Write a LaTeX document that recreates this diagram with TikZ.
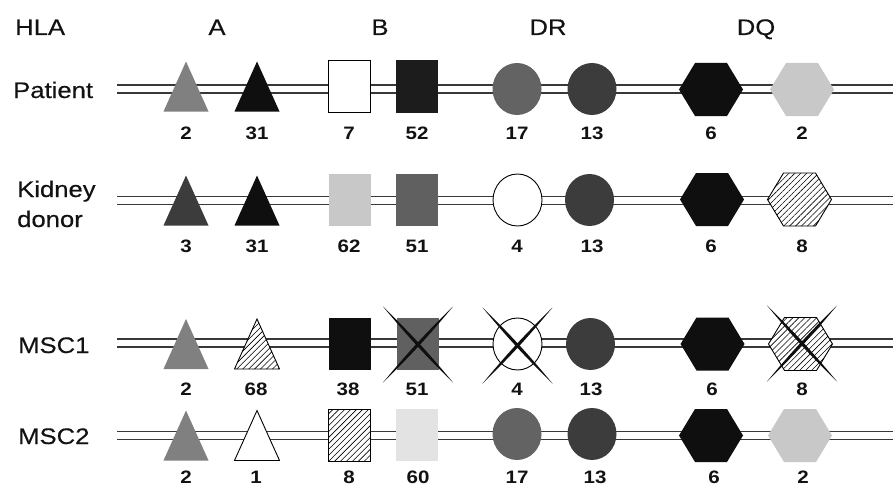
\documentclass[tikz,border=0pt]{standalone}
\usepackage{graphicx}
\usepackage{fontspec}
\setmainfont{Liberation Sans}
\newfontfamily\labfont[FakeBold=0.35]{Liberation Sans}
\usetikzlibrary{patterns.meta}
\definecolor{cMid}{gray}{0.50}
\definecolor{cDark}{gray}{0.235}
\definecolor{cBlk}{gray}{0.06}
\definecolor{cB52}{gray}{0.11}
\definecolor{cLight}{gray}{0.785}
\definecolor{cB51}{gray}{0.375}
\definecolor{cDRs}{gray}{0.39}
\definecolor{cB60}{gray}{0.89}
\definecolor{cRail}{gray}{0.22}
\definecolor{cText}{gray}{0.07}
\newcommand\wx[1]{\scalebox{1.14}[1]{#1}}
\newcommand\hTri[3]{\path[#3] ({#1-22.5},{#2+24}) -- (#1,{#2-26}) -- ({#1+22.5},{#2+24}) -- cycle;}
\newcommand\hSq[3]{\path[#3] ({#1-21},{#2-26}) rectangle ({#1+21},{#2+26});}
\newcommand\hCi[3]{\path[#3] (#1,#2) ellipse [x radius=24.5pt, y radius=26pt];}
\newcommand\hHx[3]{\path[#3] ({#1-32},#2) -- ({#1-16},{#2-26.5}) -- ({#1+16},{#2-26.5}) -- ({#1+32},#2) -- ({#1+16},{#2+26.5}) -- ({#1-16},{#2+26.5}) -- cycle;}
\newcommand\hX[2]{%
  \fill[cBlk] ({#1-35},{#2-38}) to[bend left=3] ({#1+35},{#2+38}) to[bend left=3] ({#1-35},{#2-38});
  \fill[cBlk] ({#1+35},{#2-38}) to[bend left=3] ({#1-35},{#2+38}) to[bend left=3] ({#1+35},{#2-38});}
\newcommand\hRail[1]{%
  \draw[rail] (117,{#1-4}) -- (893,{#1-4});
  \draw[rail] (117,{#1+4}) -- (893,{#1+4});}
\tikzset{
  rail/.style={draw=cRail, line width=1.1pt},
  outl/.style={fill=white, draw=black, line width=0.9pt},
  hatch/.style={preaction={fill=white}, draw=black, line width=0.9pt,
    pattern={Lines[angle=45,distance=4.2pt,line width=0.6pt]}, pattern color=black},
  lab/.style={font=\labfont\fontsize{22.5}{24}\selectfont, anchor=base west, inner sep=0pt, text=cText},
  hdr/.style={font=\labfont\fontsize{22.5}{24}\selectfont, anchor=base, inner sep=0pt, text=cText},
  num/.style={font=\bfseries\fontsize{18}{20}\selectfont, anchor=base, inner sep=0pt, text=cText}
}
\begin{document}
\begin{tikzpicture}[x=1pt,y=-1pt]
\useasboundingbox (0,0) rectangle (896,487);
\fill[white] (0,0) rectangle (896,487);

% headers
\node[lab] (hla) at (15,35) {\wx{HLA}};
\node[hdr] (hA) at (217,35) {\wx{A}};
\node[hdr] (hB) at (380,35) {\wx{B}};
\node[hdr] (hDR) at (548,35) {\wx{DR}};
\node[hdr] (hDQ) at (756,35) {\wx{DQ}};

% row labels
\node[lab] (lP) at (13,98) {\wx{Patient}};
\node[lab] (lK1) at (17,197) {\wx{Kidney}};
\node[lab] (lK2) at (17,227) {\wx{donor}};
\node[lab] (lM1) at (18,353) {\wx{MSC1}};
\node[lab] (lM2) at (18,444) {\wx{MSC2}};

% rails
\hRail{89}
\hRail{200.5}
\hRail{343}
\hRail{435.5}

% Patient
\hTri{186}{87.5}{fill=cMid}
\hTri{257}{87.5}{fill=cBlk}
\hSq{349}{86.5}{outl}
\hSq{417}{86.5}{fill=cB52}
\hCi{517}{89}{fill=cDRs}
\hCi{592}{89}{fill=cDark}
\hHx{711}{89.5}{fill=cBlk}
\hHx{802}{89.5}{fill=cLight}

% Kidney donor
\hTri{186}{201.5}{fill=cDark}
\hTri{257}{201.5}{fill=cBlk}
\hSq{349.5}{200}{fill=cLight}
\hSq{417}{200}{fill=cB51}
\hCi{517.5}{200}{outl}
\hCi{589.5}{200}{fill=cDark}
\hHx{712}{199.5}{fill=cBlk}
\hHx{799.5}{199.5}{hatch}

% MSC1
\hTri{186}{345}{fill=cMid}
\hTri{257}{345}{hatch}
\hSq{349.5}{344}{fill=cBlk}
\hSq{417.5}{344}{fill=cB51}
\hCi{517.5}{344}{outl}
\hCi{590.5}{344}{fill=cDark}
\hHx{712.5}{344}{fill=cBlk}
\hHx{800.5}{344}{hatch}
\hX{418}{344.5}
\hX{517.5}{345.5}
\hX{802}{343.5}

% MSC2
\hTri{186}{436.5}{fill=cMid}
\hTri{257}{436.5}{outl}
\hSq{349.5}{435}{hatch}
\hSq{417}{435}{fill=cB60}
\hCi{517}{434}{fill=cDRs}
\hCi{592}{434}{fill=cDark}
\hHx{711}{435.5}{fill=cBlk}
\hHx{800}{435.5}{fill=cLight}

% numbers: Patient
\node[num] (nP1) at (186,139) {\wx{2}};
\node[num] (nP2) at (257,139) {\wx{31}};
\node[num] (nP3) at (349,139) {\wx{7}};
\node[num] (nP4) at (417,139) {\wx{52}};
\node[num] (nP5) at (517,139) {\wx{17}};
\node[num] (nP6) at (592,139) {\wx{13}};
\node[num] (nP7) at (711,139) {\wx{6}};
\node[num] (nP8) at (802,139) {\wx{2}};
% Kidney
\node[num] (nK1) at (186,252) {\wx{3}};
\node[num] (nK2) at (257,252) {\wx{31}};
\node[num] (nK3) at (349,252) {\wx{62}};
\node[num] (nK4) at (417,252) {\wx{51}};
\node[num] (nK5) at (517,252) {\wx{4}};
\node[num] (nK6) at (592,252) {\wx{13}};
\node[num] (nK7) at (711,252) {\wx{6}};
\node[num] (nK8) at (802,252) {\wx{8}};
% MSC1
\node[num] (nM1) at (186,395) {\wx{2}};
\node[num] (nM2) at (256,395) {\wx{68}};
\node[num] (nM3) at (348,395) {\wx{38}};
\node[num] (nM4) at (417,395) {\wx{51}};
\node[num] (nM5) at (517,395) {\wx{4}};
\node[num] (nM6) at (591,395) {\wx{13}};
\node[num] (nM7) at (712,395) {\wx{6}};
\node[num] (nM8) at (802,395) {\wx{8}};
% MSC2
\node[num] (nN1) at (186,483.5) {\wx{2}};
\node[num] (nN2) at (256,483.5) {\wx{1}};
\node[num] (nN3) at (349,483.5) {\wx{8}};
\node[num] (nN4) at (418,483.5) {\wx{60}};
\node[num] (nN5) at (517,483.5) {\wx{17}};
\node[num] (nN6) at (595,483.5) {\wx{13}};
\node[num] (nN7) at (714,483.5) {\wx{6}};
\node[num] (nN8) at (803,483.5) {\wx{2}};
\end{tikzpicture}
\end{document}
